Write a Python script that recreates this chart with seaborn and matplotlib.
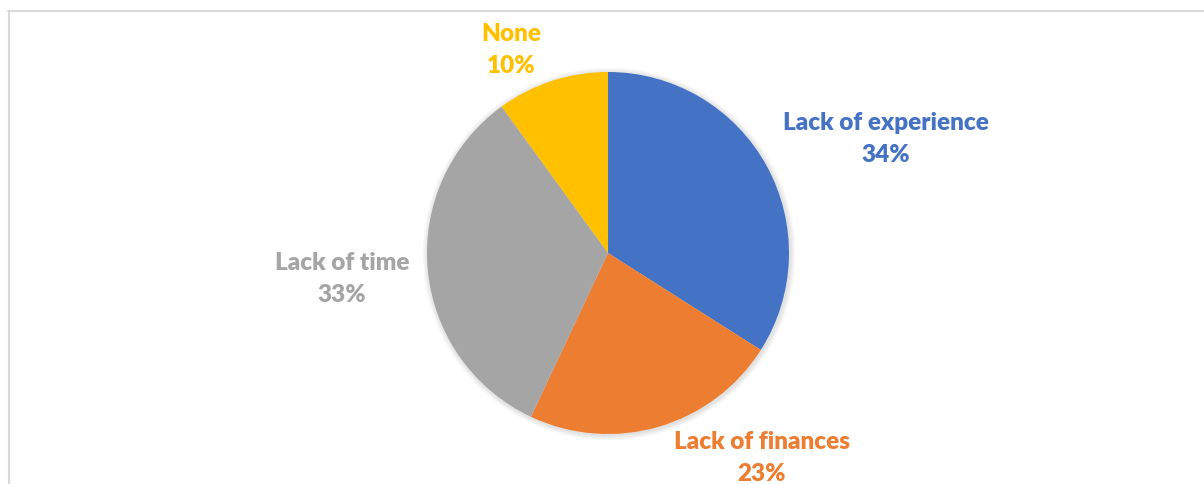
import matplotlib
matplotlib.use("Agg")
import matplotlib.pyplot as plt
import seaborn as sns
from matplotlib.patches import Circle
from matplotlib.lines import Line2D

# Reasons given, share of respondents (%)
categories = ["Lack of experience", "Lack of finances", "Lack of time", "None"]
shares = [34, 23, 33, 10]
colors = ["#4472C4", "#ED7D31", "#A5A5A5", "#FFC000"]

sns.set_theme(style="white")
plt.rcParams["font.family"] = ["Lato", "DejaVu Sans"]

W, H = 1204, 484
fig = plt.figure(figsize=(W / 100, H / 100), dpi=100)
fig.patch.set_facecolor("white")
ax = fig.add_axes([0, 0, 1, 1])

cx, cy, r = 608, H - 253, 181

# soft outer shadow under the pie
for k in range(6, 0, -1):
    ax.add_patch(Circle((cx + 1, cy - 1), r + k * 0.9, color="black",
                        alpha=0.018, lw=0, zorder=0))

wedges, _ = ax.pie(shares, colors=colors, startangle=90, counterclock=False,
                   center=(cx, cy), radius=r, frame=True,
                   wedgeprops=dict(linewidth=0))
ax.set_xlim(0, W)
ax.set_ylim(0, H)
ax.set_aspect("equal")
ax.axis("off")

# label anchors (block centres)
label_pos = [(886, 139), (762, 458), (342, 279), (511, 50)]
for name, val, col, (lx, ly) in zip(categories, shares, colors, label_pos):
    ax.text(lx, H - ly, f"{name}\n{val}%", color=col, fontsize=17.5,
            fontweight="heavy", ha="center", va="center", linespacing=1.55,
            zorder=5)

# chart-area frame
fig.add_artist(Line2D([8 / W, 1.0], [1 - 11 / H, 1 - 11 / H],
                      transform=fig.transFigure, color="#D9D9D9", lw=1.5))
fig.add_artist(Line2D([9 / W, 9 / W], [0, 1 - 11 / H],
                      transform=fig.transFigure, color="#D9D9D9", lw=1.5))

fig.savefig("out.png", dpi=100, facecolor="white")
